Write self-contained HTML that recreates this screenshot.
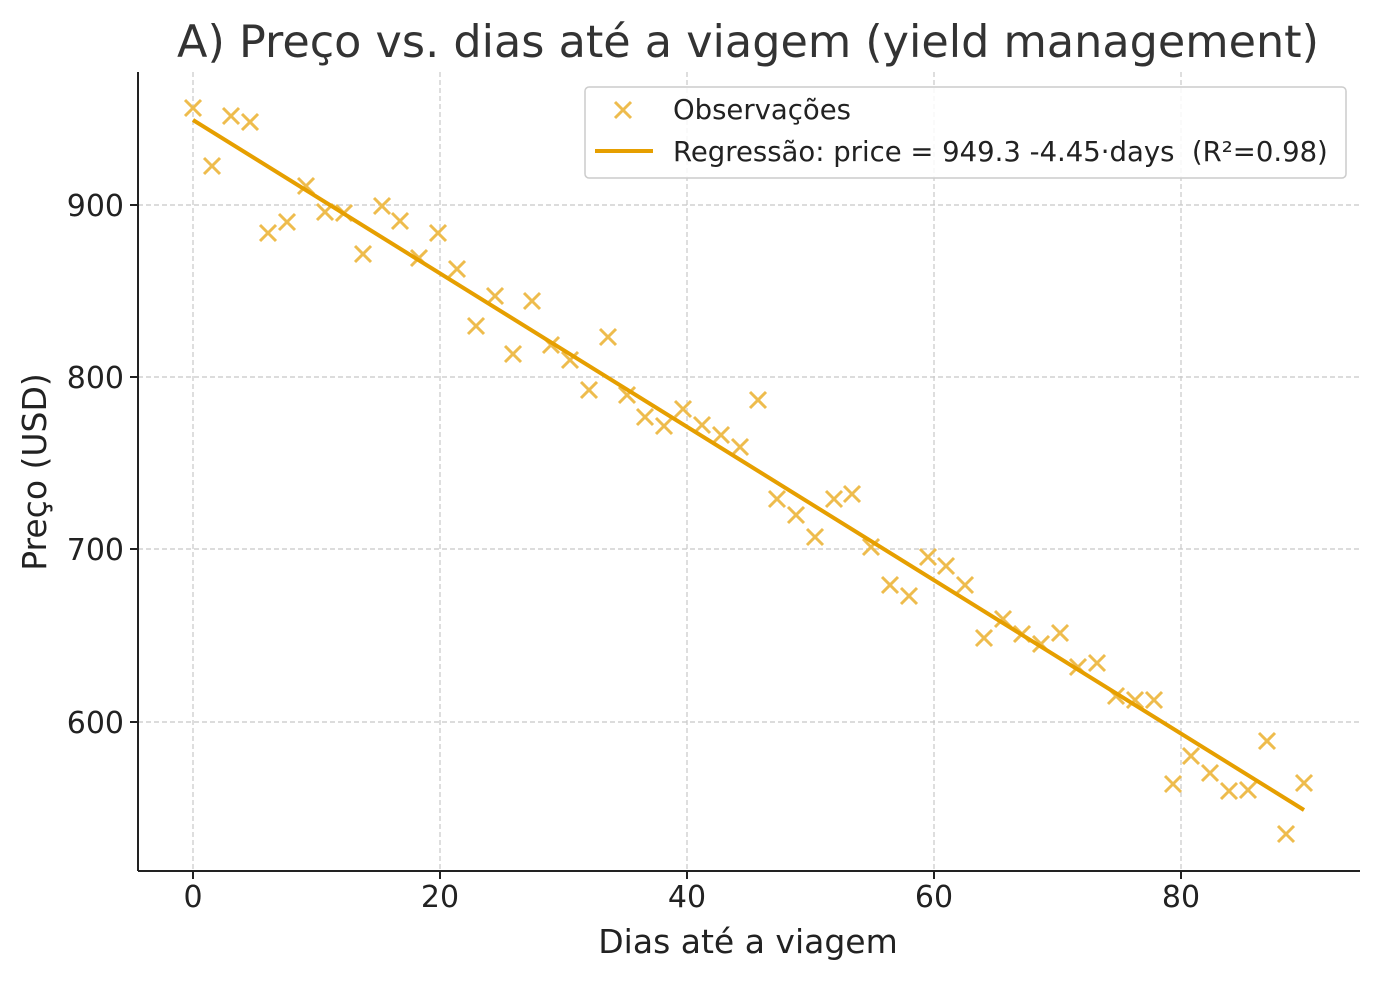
<!DOCTYPE html>
<html><head><meta charset="utf-8"><style>body{margin:0;background:#fff}svg text{font-family:"DejaVu Sans","Liberation Sans",sans-serif;fill:#222;white-space:pre}</style></head>
<body>
<svg width="1380" height="979" viewBox="0 0 1380 979" xmlns="http://www.w3.org/2000/svg">
<rect width="1380" height="979" fill="#fff"/>
<g stroke="#c8c8c8" stroke-width="1.2" stroke-dasharray="5,3">
<line x1="193" y1="72" x2="193" y2="871"/><line x1="440" y1="72" x2="440" y2="871"/><line x1="687" y1="72" x2="687" y2="871"/><line x1="934" y1="72" x2="934" y2="871"/><line x1="1181" y1="72" x2="1181" y2="871"/>
<line x1="138" y1="205" x2="1360" y2="205"/><line x1="138" y1="377" x2="1360" y2="377"/><line x1="138" y1="549" x2="1360" y2="549"/><line x1="138" y1="722" x2="1360" y2="722"/>
</g>
<g stroke="#222" stroke-width="2">
<line x1="138" y1="72" x2="138" y2="871"/><line x1="138" y1="871" x2="1360" y2="871"/>
<line x1="193" y1="871" x2="193" y2="879"/><line x1="440" y1="871" x2="440" y2="879"/><line x1="687" y1="871" x2="687" y2="879"/><line x1="934" y1="871" x2="934" y2="879"/><line x1="1181" y1="871" x2="1181" y2="879"/>
<line x1="130" y1="205" x2="138" y2="205"/><line x1="130" y1="377" x2="138" y2="377"/><line x1="130" y1="549" x2="138" y2="549"/><line x1="130" y1="722" x2="138" y2="722"/>
</g>
<g font-size="30" text-anchor="middle">
<text x="193" y="907">0</text><text x="440" y="907">20</text><text x="687" y="907">40</text><text x="934" y="907">60</text><text x="1181" y="907">80</text>
</g>
<g font-size="30" text-anchor="end">
<text x="124" y="216">900</text><text x="124" y="388">800</text><text x="124" y="560">700</text><text x="124" y="733">600</text>
</g>
<text x="748" y="953" font-size="33" text-anchor="middle">Dias até a viagem</text>
<text transform="translate(46,472) rotate(-90)" font-size="33" text-anchor="middle">Preço (USD)</text>
<text x="748" y="57" font-size="44.5" text-anchor="middle" style="fill:#333">A) Preço vs. dias até a viagem (yield management)</text>
<g id="pts" stroke="#eebc4d" stroke-width="3"></g>
<line x1="193" y1="120" x2="1304" y2="810" stroke="#e69f00" stroke-width="4"/>
<rect x="585" y="87" width="761" height="91" fill="#fff" fill-opacity="0.85" stroke="#ccc" stroke-width="1.5" rx="4"/>
<g stroke="#eebc4d" stroke-width="3"><line x1="615" y1="102" x2="631" y2="118"/><line x1="615" y1="118" x2="631" y2="102"/></g>
<line x1="595" y1="151" x2="653" y2="151" stroke="#e69f00" stroke-width="4"/>
<text x="673" y="119" font-size="27.5">Observações</text>
<text x="673" y="161" font-size="27.5">Regressão: price = 949.3 -4.45·days  (R²=0.98)</text>
</svg>
<script>
var xs=[193,212,231,250,268,287,306,325,344,363,382,400,419,438,457,476,495,513,532,551,570,589,608,627,645,664,683,702,721,740,758,777,796,815,834,852,871,890,909,928,946,965,984,1003,1022,1041,1060,1078,1097,1116,1135,1154,1173,1191,1210,1229,1248,1267,1286,1304];
var ys=[108,166,116,122,233,222,186,212,213,254,206,221,258,233,269,326,296,354,301,345,360,390,337,395,417,426,409,425,435,447,400,499,515,537,499,494,547,585,596,557,566,585,638,619,634,644,633,667,663,696,700,700,784,756,773,791,790,741,834,783];
var g=document.getElementById('pts'),s='';
for(var i=0;i<xs.length;i++){var x=xs[i],y=ys[i];s+='<line x1="'+(x-8)+'" y1="'+(y-8)+'" x2="'+(x+8)+'" y2="'+(y+8)+'"/><line x1="'+(x-8)+'" y1="'+(y+8)+'" x2="'+(x+8)+'" y2="'+(y-8)+'"/>';}
g.innerHTML=s;
</script>
</body></html>
